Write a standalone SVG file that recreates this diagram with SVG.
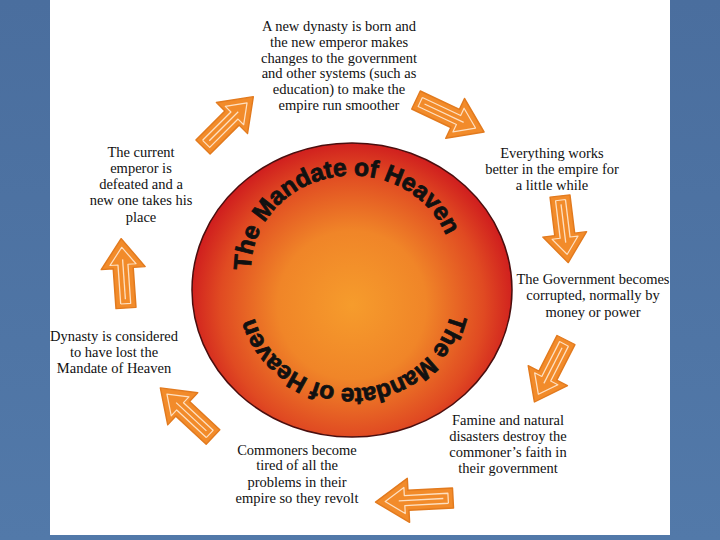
<svg xmlns="http://www.w3.org/2000/svg" xmlns:xlink="http://www.w3.org/1999/xlink" width="720" height="540" viewBox="0 0 720 540">
<defs>
<style>
.lbl{font-family:"Liberation Serif","Times New Roman",serif;font-size:14.5px;fill:#111;text-anchor:middle}
.arc{font-family:"Liberation Sans",Arial,sans-serif;font-weight:bold;font-size:24.5px;fill:#111;stroke:#111;stroke-width:0.8}
.af{fill:#F28B2A;stroke:#E27A1E;stroke-width:1.5;stroke-linejoin:round}
.al{fill:none;stroke:#FFE9D2;stroke-width:1.3;stroke-linejoin:round;opacity:0.9}
</style>
<radialGradient id="sun" cx="352" cy="305" r="165" gradientUnits="userSpaceOnUse">
<stop offset="0" stop-color="#F69C2C"/>
<stop offset="0.45" stop-color="#F08528"/>
<stop offset="0.8" stop-color="#E04A22"/>
<stop offset="1" stop-color="#CF1C1E"/>
</radialGradient>
<linearGradient id="bg" x1="0" y1="0" x2="0" y2="1">
<stop offset="0" stop-color="#4A6E9E"/>
<stop offset="1" stop-color="#5279A9"/>
</linearGradient>
<g id="arrow">
<polygon class="af" points="0,-10 46,-10 46,-22 80,0 46,22 46,10 0,10"/>
<polyline class="al" points="5,-5 50,-5 50,-13 70,0 50,13 50,5 5,5 5,-5"/>
<line class="al" x1="10" y1="0" x2="56" y2="0"/>
</g>
<path id="topArc" d="M250.9,270.5 A101,95 0 0,1 453.1,270.5"/>
<path id="botArc" d="M450.6,313.8 A101,95 0 0,1 253.4,313.8"/>
</defs>
<rect x="0" y="0" width="720" height="540" fill="url(#bg)"/>
<rect x="50" y="0" width="620" height="535" fill="#FFFFFF"/>
<g id="circle">
<ellipse cx="352" cy="290" rx="160" ry="147" fill="url(#sun)" stroke="#4A0E0E" stroke-width="1.5"/>
<text class="arc"><textPath xlink:href="#topArc" href="#topArc" textLength="272" lengthAdjust="spacing">The Mandate of Heaven</textPath></text>
<text class="arc"><textPath xlink:href="#botArc" href="#botArc" textLength="262" lengthAdjust="spacing">The Mandate of Heaven</textPath></text>
</g>
<g id="connectors">
<use xlink:href="#arrow" href="#arrow" transform="translate(203,147) rotate(-45) scale(0.89,1)"/>
<use xlink:href="#arrow" href="#arrow" transform="translate(416,100) rotate(25.2) scale(0.94,1)"/>
<use xlink:href="#arrow" href="#arrow" transform="translate(560,196) rotate(83) scale(0.84,1)"/>
<use xlink:href="#arrow" href="#arrow" transform="translate(566,340) rotate(117) scale(0.87,1)"/>
<use xlink:href="#arrow" href="#arrow" transform="translate(453,498) rotate(177) scale(0.97,1)"/>
<use xlink:href="#arrow" href="#arrow" transform="translate(213,437) rotate(-137) scale(0.9,1)"/>
<use xlink:href="#arrow" href="#arrow" transform="translate(126,308) rotate(-94) scale(0.87,1)"/>
</g>
<g id="n1">
<text class="lbl" x="339" y="31">A new dynasty is born and</text>
<text class="lbl" x="339" y="47">the new emperor makes</text>
<text class="lbl" x="339" y="63">changes to the government</text>
<text class="lbl" x="339" y="78">and other systems (such as</text>
<text class="lbl" x="339" y="94">education) to make the</text>
<text class="lbl" x="339" y="110">empire run smoother</text>
</g>
<g id="n2">
<text class="lbl" x="552" y="158">Everything works</text>
<text class="lbl" x="552" y="174">better in the empire for</text>
<text class="lbl" x="552" y="190">a little while</text>
</g>
<g id="n3">
<text class="lbl" x="593" y="284">The Government becomes</text>
<text class="lbl" x="593" y="300">corrupted, normally by</text>
<text class="lbl" x="593" y="317">money or power</text>
</g>
<g id="n4">
<text class="lbl" x="508" y="425">Famine and natural</text>
<text class="lbl" x="508" y="441">disasters destroy the</text>
<text class="lbl" x="508" y="457">commoner’s faith in</text>
<text class="lbl" x="508" y="473">their government</text>
</g>
<g id="n5">
<text class="lbl" x="297" y="455">Commoners become</text>
<text class="lbl" x="297" y="470">tired of all the</text>
<text class="lbl" x="297" y="487">problems in their</text>
<text class="lbl" x="297" y="503">empire so they revolt</text>
</g>
<g id="n6">
<text class="lbl" x="114" y="341">Dynasty is considered</text>
<text class="lbl" x="114" y="357">to have lost the</text>
<text class="lbl" x="114" y="373">Mandate of Heaven</text>
</g>
<g id="n7">
<text class="lbl" x="141" y="157">The current</text>
<text class="lbl" x="141" y="173">emperor is</text>
<text class="lbl" x="141" y="189">defeated and a</text>
<text class="lbl" x="141" y="205">new one takes his</text>
<text class="lbl" x="141" y="222">place</text>
</g>
</svg>
